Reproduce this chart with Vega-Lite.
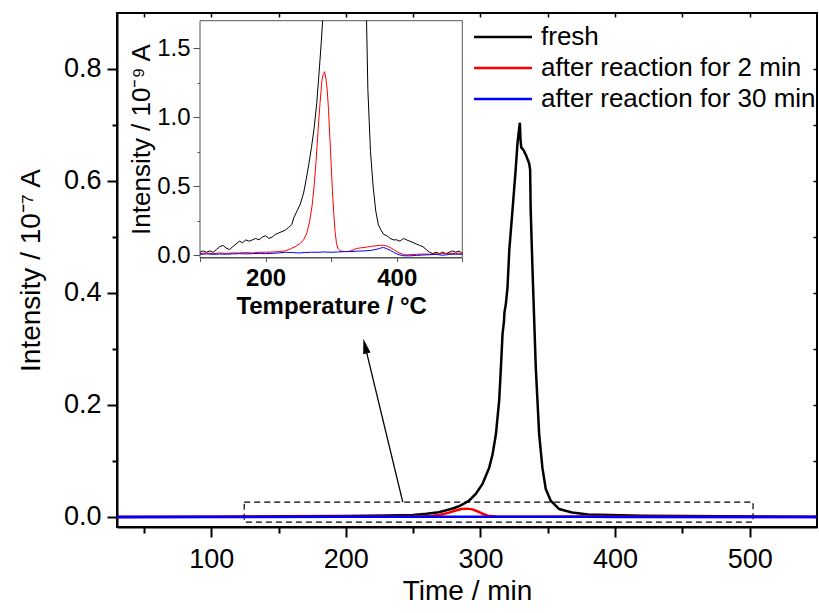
{
  "$schema": "https://vega.github.io/schema/vega-lite/v6.json",
  "width": 700,
  "height": 514,
  "autosize": {"type": "none"},
  "padding": {"left": 117, "top": 13, "right": 2, "bottom": 86},
  "config": {
    "font": "Liberation Sans",
    "view": {"stroke": "black", "strokeWidth": 2},
    "axis": {"grid": false, "labelColor": "black", "titleColor": "black", "titleFontWeight": "normal", "domainColor": "black", "tickColor": "black"}
  },
  "datasets": {
    "main": [
      {"t": 30, "v": 0.0, "s": "fresh"},
      {"t": 100, "v": 0.0005, "s": "fresh"},
      {"t": 150, "v": 0.001, "s": "fresh"},
      {"t": 200, "v": 0.0015, "s": "fresh"},
      {"t": 230, "v": 0.0025, "s": "fresh"},
      {"t": 250, "v": 0.0035, "s": "fresh"},
      {"t": 260, "v": 0.0055, "s": "fresh"},
      {"t": 269, "v": 0.0085, "s": "fresh"},
      {"t": 274, "v": 0.0115, "s": "fresh"},
      {"t": 280, "v": 0.0155, "s": "fresh"},
      {"t": 284, "v": 0.019, "s": "fresh"},
      {"t": 288, "v": 0.024, "s": "fresh"},
      {"t": 291.5, "v": 0.029, "s": "fresh"},
      {"t": 296.5, "v": 0.041, "s": "fresh"},
      {"t": 301.5, "v": 0.059, "s": "fresh"},
      {"t": 306.5, "v": 0.088, "s": "fresh"},
      {"t": 309, "v": 0.112, "s": "fresh"},
      {"t": 311.5, "v": 0.148, "s": "fresh"},
      {"t": 313.9, "v": 0.208, "s": "fresh"},
      {"t": 315.2, "v": 0.267, "s": "fresh"},
      {"t": 316.4, "v": 0.327, "s": "fresh"},
      {"t": 317.5, "v": 0.35, "s": "fresh"},
      {"t": 317.8, "v": 0.365, "s": "fresh"},
      {"t": 318.9, "v": 0.381, "s": "fresh"},
      {"t": 320.1, "v": 0.41, "s": "fresh"},
      {"t": 321.4, "v": 0.476, "s": "fresh"},
      {"t": 323.8, "v": 0.548, "s": "fresh"},
      {"t": 326.3, "v": 0.625, "s": "fresh"},
      {"t": 327.5, "v": 0.667, "s": "fresh"},
      {"t": 328.3, "v": 0.685, "s": "fresh"},
      {"t": 329.3, "v": 0.704, "s": "fresh"},
      {"t": 329.7, "v": 0.675, "s": "fresh"},
      {"t": 330.3, "v": 0.66, "s": "fresh"},
      {"t": 332, "v": 0.655, "s": "fresh"},
      {"t": 334, "v": 0.645, "s": "fresh"},
      {"t": 336.2, "v": 0.631, "s": "fresh"},
      {"t": 336.9, "v": 0.62, "s": "fresh"},
      {"t": 337.3, "v": 0.55, "s": "fresh"},
      {"t": 338.6, "v": 0.446, "s": "fresh"},
      {"t": 341.1, "v": 0.267, "s": "fresh"},
      {"t": 343.6, "v": 0.148, "s": "fresh"},
      {"t": 346, "v": 0.088, "s": "fresh"},
      {"t": 348.5, "v": 0.05, "s": "fresh"},
      {"t": 352.2, "v": 0.029, "s": "fresh"},
      {"t": 358.5, "v": 0.014, "s": "fresh"},
      {"t": 368, "v": 0.008, "s": "fresh"},
      {"t": 380, "v": 0.0045, "s": "fresh"},
      {"t": 420, "v": 0.002, "s": "fresh"},
      {"t": 550, "v": 0.0005, "s": "fresh"},
      {"t": 30, "v": 0.0, "s": "after reaction for 2 min"},
      {"t": 200, "v": 0.0002, "s": "after reaction for 2 min"},
      {"t": 250, "v": 0.0009, "s": "after reaction for 2 min"},
      {"t": 263, "v": 0.0018, "s": "after reaction for 2 min"},
      {"t": 270, "v": 0.004, "s": "after reaction for 2 min"},
      {"t": 276, "v": 0.0072, "s": "after reaction for 2 min"},
      {"t": 281, "v": 0.011, "s": "after reaction for 2 min"},
      {"t": 286, "v": 0.014, "s": "after reaction for 2 min"},
      {"t": 289.8, "v": 0.0148, "s": "after reaction for 2 min"},
      {"t": 294, "v": 0.0135, "s": "after reaction for 2 min"},
      {"t": 298, "v": 0.0097, "s": "after reaction for 2 min"},
      {"t": 301.5, "v": 0.0057, "s": "after reaction for 2 min"},
      {"t": 305.5, "v": 0.0022, "s": "after reaction for 2 min"},
      {"t": 311.6, "v": 0.0006, "s": "after reaction for 2 min"},
      {"t": 324, "v": 0.0003, "s": "after reaction for 2 min"},
      {"t": 340, "v": 0.0005, "s": "after reaction for 2 min"},
      {"t": 380, "v": 0.0007, "s": "after reaction for 2 min"},
      {"t": 400, "v": 0.0002, "s": "after reaction for 2 min"},
      {"t": 550, "v": 0.0, "s": "after reaction for 2 min"},
      {"t": 30, "v": 0.0, "s": "after reaction for 30 min"},
      {"t": 200, "v": 0.0001, "s": "after reaction for 30 min"},
      {"t": 300, "v": 0.0002, "s": "after reaction for 30 min"},
      {"t": 380, "v": 0.0005, "s": "after reaction for 30 min"},
      {"t": 400, "v": 0.0, "s": "after reaction for 30 min"},
      {"t": 550, "v": 0.0, "s": "after reaction for 30 min"}
    ],
    "box": [{"t": 124.5, "t2": 502.5, "v": -0.0093, "v2": 0.0264}],
    "arrow": [{"t": 242.3, "v": 0.0264, "t2": 214.3, "v2": 0.305}],
    "frame": [{"T": 100, "T2": 500, "I": -0.018, "I2": 1.7}],
    "inset": [
      {"T": 100, "I": 0.02, "s": "fresh", "seg": "a"},
      {"T": 105, "I": 0.03, "s": "fresh", "seg": "a"},
      {"T": 110, "I": 0.02, "s": "fresh", "seg": "a"},
      {"T": 115, "I": 0.03, "s": "fresh", "seg": "a"},
      {"T": 120, "I": 0.02, "s": "fresh", "seg": "a"},
      {"T": 125, "I": 0.04, "s": "fresh", "seg": "a"},
      {"T": 130, "I": 0.06, "s": "fresh", "seg": "a"},
      {"T": 135, "I": 0.07, "s": "fresh", "seg": "a"},
      {"T": 140, "I": 0.05, "s": "fresh", "seg": "a"},
      {"T": 145, "I": 0.04, "s": "fresh", "seg": "a"},
      {"T": 150, "I": 0.06, "s": "fresh", "seg": "a"},
      {"T": 155, "I": 0.08, "s": "fresh", "seg": "a"},
      {"T": 160, "I": 0.1, "s": "fresh", "seg": "a"},
      {"T": 165, "I": 0.09, "s": "fresh", "seg": "a"},
      {"T": 170, "I": 0.11, "s": "fresh", "seg": "a"},
      {"T": 175, "I": 0.1, "s": "fresh", "seg": "a"},
      {"T": 180, "I": 0.11, "s": "fresh", "seg": "a"},
      {"T": 185, "I": 0.12, "s": "fresh", "seg": "a"},
      {"T": 190, "I": 0.11, "s": "fresh", "seg": "a"},
      {"T": 195, "I": 0.13, "s": "fresh", "seg": "a"},
      {"T": 200, "I": 0.14, "s": "fresh", "seg": "a"},
      {"T": 205, "I": 0.12, "s": "fresh", "seg": "a"},
      {"T": 210, "I": 0.13, "s": "fresh", "seg": "a"},
      {"T": 215, "I": 0.15, "s": "fresh", "seg": "a"},
      {"T": 220, "I": 0.16, "s": "fresh", "seg": "a"},
      {"T": 225, "I": 0.17, "s": "fresh", "seg": "a"},
      {"T": 230, "I": 0.18, "s": "fresh", "seg": "a"},
      {"T": 235, "I": 0.2, "s": "fresh", "seg": "a"},
      {"T": 240, "I": 0.22, "s": "fresh", "seg": "a"},
      {"T": 243, "I": 0.27, "s": "fresh", "seg": "a"},
      {"T": 248, "I": 0.32, "s": "fresh", "seg": "a"},
      {"T": 253, "I": 0.37, "s": "fresh", "seg": "a"},
      {"T": 258, "I": 0.45, "s": "fresh", "seg": "a"},
      {"T": 262, "I": 0.55, "s": "fresh", "seg": "a"},
      {"T": 266, "I": 0.66, "s": "fresh", "seg": "a"},
      {"T": 270, "I": 0.78, "s": "fresh", "seg": "a"},
      {"T": 274, "I": 0.92, "s": "fresh", "seg": "a"},
      {"T": 278, "I": 1.1, "s": "fresh", "seg": "a"},
      {"T": 282, "I": 1.35, "s": "fresh", "seg": "a"},
      {"T": 285, "I": 1.55, "s": "fresh", "seg": "a"},
      {"T": 287, "I": 1.7, "s": "fresh", "seg": "a"},
      {"T": 354, "I": 1.7, "s": "fresh", "seg": "b"},
      {"T": 356, "I": 1.2, "s": "fresh", "seg": "b"},
      {"T": 360, "I": 0.75, "s": "fresh", "seg": "b"},
      {"T": 364, "I": 0.5, "s": "fresh", "seg": "b"},
      {"T": 368, "I": 0.32, "s": "fresh", "seg": "b"},
      {"T": 372, "I": 0.22, "s": "fresh", "seg": "b"},
      {"T": 376, "I": 0.18, "s": "fresh", "seg": "b"},
      {"T": 380, "I": 0.15, "s": "fresh", "seg": "b"},
      {"T": 385, "I": 0.14, "s": "fresh", "seg": "b"},
      {"T": 390, "I": 0.12, "s": "fresh", "seg": "b"},
      {"T": 395, "I": 0.11, "s": "fresh", "seg": "b"},
      {"T": 400, "I": 0.11, "s": "fresh", "seg": "b"},
      {"T": 405, "I": 0.1, "s": "fresh", "seg": "b"},
      {"T": 410, "I": 0.12, "s": "fresh", "seg": "b"},
      {"T": 415, "I": 0.11, "s": "fresh", "seg": "b"},
      {"T": 420, "I": 0.1, "s": "fresh", "seg": "b"},
      {"T": 425, "I": 0.09, "s": "fresh", "seg": "b"},
      {"T": 430, "I": 0.08, "s": "fresh", "seg": "b"},
      {"T": 435, "I": 0.07, "s": "fresh", "seg": "b"},
      {"T": 440, "I": 0.06, "s": "fresh", "seg": "b"},
      {"T": 445, "I": 0.04, "s": "fresh", "seg": "b"},
      {"T": 450, "I": 0.02, "s": "fresh", "seg": "b"},
      {"T": 455, "I": 0.01, "s": "fresh", "seg": "b"},
      {"T": 460, "I": 0.02, "s": "fresh", "seg": "b"},
      {"T": 465, "I": 0.01, "s": "fresh", "seg": "b"},
      {"T": 470, "I": 0.02, "s": "fresh", "seg": "b"},
      {"T": 475, "I": 0.01, "s": "fresh", "seg": "b"},
      {"T": 480, "I": 0.02, "s": "fresh", "seg": "b"},
      {"T": 485, "I": 0.03, "s": "fresh", "seg": "b"},
      {"T": 490, "I": 0.02, "s": "fresh", "seg": "b"},
      {"T": 495, "I": 0.03, "s": "fresh", "seg": "b"},
      {"T": 500, "I": 0.01, "s": "fresh", "seg": "b"},
      {"T": 100, "I": 0.01, "s": "after reaction for 2 min", "seg": "a"},
      {"T": 110, "I": 0.015, "s": "after reaction for 2 min", "seg": "a"},
      {"T": 120, "I": 0.01, "s": "after reaction for 2 min", "seg": "a"},
      {"T": 130, "I": 0.015, "s": "after reaction for 2 min", "seg": "a"},
      {"T": 140, "I": 0.012, "s": "after reaction for 2 min", "seg": "a"},
      {"T": 150, "I": 0.015, "s": "after reaction for 2 min", "seg": "a"},
      {"T": 160, "I": 0.015, "s": "after reaction for 2 min", "seg": "a"},
      {"T": 170, "I": 0.018, "s": "after reaction for 2 min", "seg": "a"},
      {"T": 180, "I": 0.015, "s": "after reaction for 2 min", "seg": "a"},
      {"T": 190, "I": 0.02, "s": "after reaction for 2 min", "seg": "a"},
      {"T": 200, "I": 0.02, "s": "after reaction for 2 min", "seg": "a"},
      {"T": 210, "I": 0.022, "s": "after reaction for 2 min", "seg": "a"},
      {"T": 220, "I": 0.025, "s": "after reaction for 2 min", "seg": "a"},
      {"T": 230, "I": 0.03, "s": "after reaction for 2 min", "seg": "a"},
      {"T": 238, "I": 0.045, "s": "after reaction for 2 min", "seg": "a"},
      {"T": 245, "I": 0.06, "s": "after reaction for 2 min", "seg": "a"},
      {"T": 253, "I": 0.085, "s": "after reaction for 2 min", "seg": "a"},
      {"T": 258, "I": 0.11, "s": "after reaction for 2 min", "seg": "a"},
      {"T": 263, "I": 0.16, "s": "after reaction for 2 min", "seg": "a"},
      {"T": 267, "I": 0.24, "s": "after reaction for 2 min", "seg": "a"},
      {"T": 271, "I": 0.36, "s": "after reaction for 2 min", "seg": "a"},
      {"T": 274, "I": 0.5, "s": "after reaction for 2 min", "seg": "a"},
      {"T": 277, "I": 0.68, "s": "after reaction for 2 min", "seg": "a"},
      {"T": 280, "I": 0.9, "s": "after reaction for 2 min", "seg": "a"},
      {"T": 283, "I": 1.1, "s": "after reaction for 2 min", "seg": "a"},
      {"T": 286, "I": 1.27, "s": "after reaction for 2 min", "seg": "a"},
      {"T": 288, "I": 1.31, "s": "after reaction for 2 min", "seg": "a"},
      {"T": 290, "I": 1.33, "s": "after reaction for 2 min", "seg": "a"},
      {"T": 292, "I": 1.28, "s": "after reaction for 2 min", "seg": "a"},
      {"T": 294, "I": 1.2, "s": "after reaction for 2 min", "seg": "a"},
      {"T": 296, "I": 1.05, "s": "after reaction for 2 min", "seg": "a"},
      {"T": 298, "I": 0.86, "s": "after reaction for 2 min", "seg": "a"},
      {"T": 300, "I": 0.66, "s": "after reaction for 2 min", "seg": "a"},
      {"T": 302, "I": 0.46, "s": "after reaction for 2 min", "seg": "a"},
      {"T": 304, "I": 0.3, "s": "after reaction for 2 min", "seg": "a"},
      {"T": 306, "I": 0.17, "s": "after reaction for 2 min", "seg": "a"},
      {"T": 308, "I": 0.09, "s": "after reaction for 2 min", "seg": "a"},
      {"T": 310, "I": 0.05, "s": "after reaction for 2 min", "seg": "a"},
      {"T": 314, "I": 0.03, "s": "after reaction for 2 min", "seg": "a"},
      {"T": 320, "I": 0.025, "s": "after reaction for 2 min", "seg": "a"},
      {"T": 325, "I": 0.025, "s": "after reaction for 2 min", "seg": "a"},
      {"T": 330, "I": 0.03, "s": "after reaction for 2 min", "seg": "a"},
      {"T": 335, "I": 0.04, "s": "after reaction for 2 min", "seg": "a"},
      {"T": 340, "I": 0.048, "s": "after reaction for 2 min", "seg": "a"},
      {"T": 345, "I": 0.052, "s": "after reaction for 2 min", "seg": "a"},
      {"T": 350, "I": 0.055, "s": "after reaction for 2 min", "seg": "a"},
      {"T": 355, "I": 0.058, "s": "after reaction for 2 min", "seg": "a"},
      {"T": 360, "I": 0.062, "s": "after reaction for 2 min", "seg": "a"},
      {"T": 365, "I": 0.065, "s": "after reaction for 2 min", "seg": "a"},
      {"T": 370, "I": 0.068, "s": "after reaction for 2 min", "seg": "a"},
      {"T": 375, "I": 0.07, "s": "after reaction for 2 min", "seg": "a"},
      {"T": 380, "I": 0.07, "s": "after reaction for 2 min", "seg": "a"},
      {"T": 385, "I": 0.065, "s": "after reaction for 2 min", "seg": "a"},
      {"T": 390, "I": 0.055, "s": "after reaction for 2 min", "seg": "a"},
      {"T": 395, "I": 0.04, "s": "after reaction for 2 min", "seg": "a"},
      {"T": 400, "I": 0.025, "s": "after reaction for 2 min", "seg": "a"},
      {"T": 405, "I": 0.012, "s": "after reaction for 2 min", "seg": "a"},
      {"T": 410, "I": 0.005, "s": "after reaction for 2 min", "seg": "a"},
      {"T": 415, "I": 0.0, "s": "after reaction for 2 min", "seg": "a"},
      {"T": 420, "I": 0.003, "s": "after reaction for 2 min", "seg": "a"},
      {"T": 430, "I": 0.005, "s": "after reaction for 2 min", "seg": "a"},
      {"T": 440, "I": 0.007, "s": "after reaction for 2 min", "seg": "a"},
      {"T": 450, "I": 0.006, "s": "after reaction for 2 min", "seg": "a"},
      {"T": 460, "I": 0.008, "s": "after reaction for 2 min", "seg": "a"},
      {"T": 470, "I": 0.01, "s": "after reaction for 2 min", "seg": "a"},
      {"T": 480, "I": 0.012, "s": "after reaction for 2 min", "seg": "a"},
      {"T": 490, "I": 0.012, "s": "after reaction for 2 min", "seg": "a"},
      {"T": 500, "I": 0.015, "s": "after reaction for 2 min", "seg": "a"},
      {"T": 100, "I": 0.005, "s": "after reaction for 30 min", "seg": "a"},
      {"T": 110, "I": 0.008, "s": "after reaction for 30 min", "seg": "a"},
      {"T": 120, "I": 0.005, "s": "after reaction for 30 min", "seg": "a"},
      {"T": 130, "I": 0.007, "s": "after reaction for 30 min", "seg": "a"},
      {"T": 140, "I": 0.006, "s": "after reaction for 30 min", "seg": "a"},
      {"T": 150, "I": 0.008, "s": "after reaction for 30 min", "seg": "a"},
      {"T": 160, "I": 0.01, "s": "after reaction for 30 min", "seg": "a"},
      {"T": 170, "I": 0.008, "s": "after reaction for 30 min", "seg": "a"},
      {"T": 180, "I": 0.01, "s": "after reaction for 30 min", "seg": "a"},
      {"T": 190, "I": 0.012, "s": "after reaction for 30 min", "seg": "a"},
      {"T": 200, "I": 0.01, "s": "after reaction for 30 min", "seg": "a"},
      {"T": 210, "I": 0.012, "s": "after reaction for 30 min", "seg": "a"},
      {"T": 220, "I": 0.015, "s": "after reaction for 30 min", "seg": "a"},
      {"T": 230, "I": 0.02, "s": "after reaction for 30 min", "seg": "a"},
      {"T": 240, "I": 0.018, "s": "after reaction for 30 min", "seg": "a"},
      {"T": 250, "I": 0.015, "s": "after reaction for 30 min", "seg": "a"},
      {"T": 260, "I": 0.018, "s": "after reaction for 30 min", "seg": "a"},
      {"T": 270, "I": 0.02, "s": "after reaction for 30 min", "seg": "a"},
      {"T": 280, "I": 0.02, "s": "after reaction for 30 min", "seg": "a"},
      {"T": 290, "I": 0.022, "s": "after reaction for 30 min", "seg": "a"},
      {"T": 300, "I": 0.02, "s": "after reaction for 30 min", "seg": "a"},
      {"T": 310, "I": 0.022, "s": "after reaction for 30 min", "seg": "a"},
      {"T": 320, "I": 0.025, "s": "after reaction for 30 min", "seg": "a"},
      {"T": 330, "I": 0.025, "s": "after reaction for 30 min", "seg": "a"},
      {"T": 340, "I": 0.028, "s": "after reaction for 30 min", "seg": "a"},
      {"T": 350, "I": 0.03, "s": "after reaction for 30 min", "seg": "a"},
      {"T": 360, "I": 0.033, "s": "after reaction for 30 min", "seg": "a"},
      {"T": 365, "I": 0.038, "s": "after reaction for 30 min", "seg": "a"},
      {"T": 370, "I": 0.042, "s": "after reaction for 30 min", "seg": "a"},
      {"T": 375, "I": 0.05, "s": "after reaction for 30 min", "seg": "a"},
      {"T": 380, "I": 0.055, "s": "after reaction for 30 min", "seg": "a"},
      {"T": 385, "I": 0.045, "s": "after reaction for 30 min", "seg": "a"},
      {"T": 390, "I": 0.035, "s": "after reaction for 30 min", "seg": "a"},
      {"T": 395, "I": 0.02, "s": "after reaction for 30 min", "seg": "a"},
      {"T": 400, "I": 0.008, "s": "after reaction for 30 min", "seg": "a"},
      {"T": 405, "I": 0.0, "s": "after reaction for 30 min", "seg": "a"},
      {"T": 410, "I": -0.005, "s": "after reaction for 30 min", "seg": "a"},
      {"T": 420, "I": -0.006, "s": "after reaction for 30 min", "seg": "a"},
      {"T": 430, "I": -0.003, "s": "after reaction for 30 min", "seg": "a"},
      {"T": 440, "I": 0.0, "s": "after reaction for 30 min", "seg": "a"},
      {"T": 450, "I": 0.002, "s": "after reaction for 30 min", "seg": "a"},
      {"T": 460, "I": 0.005, "s": "after reaction for 30 min", "seg": "a"},
      {"T": 470, "I": -0.002, "s": "after reaction for 30 min", "seg": "a"},
      {"T": 480, "I": 0.004, "s": "after reaction for 30 min", "seg": "a"},
      {"T": 490, "I": 0.006, "s": "after reaction for 30 min", "seg": "a"},
      {"T": 500, "I": 0.005, "s": "after reaction for 30 min", "seg": "a"}
    ]
  },
  "layer": [
    {
      "data": {"name": "box"},
      "mark": {"type": "rect", "fillOpacity": 0, "stroke": "black", "strokeWidth": 1.2, "strokeDash": [6, 4]},
      "encoding": {
        "x": {"field": "t", "type": "quantitative", "scale": {"domain": [30, 550], "nice": false, "zero": false},
          "axis": {"orient": "top", "values": [50, 100, 150, 200, 250, 300, 350, 400, 450, 500], "labels": false, "domain": false, "title": null, "tickSize": -4, "tickWidth": 1.5}},
        "x2": {"field": "t2"},
        "y": {"field": "v", "type": "quantitative", "scale": {"domain": [-0.018, 0.9], "nice": false, "zero": false},
          "axis": {"orient": "right", "values": [0, 0.1, 0.2, 0.3, 0.4, 0.5, 0.6, 0.7, 0.8], "labels": false, "domain": false, "title": null, "tickSize": -4, "tickWidth": 1.5}},
        "y2": {"field": "v2"}
      }
    },
    {
      "data": {"name": "main"},
      "mark": {"type": "line", "strokeWidth": 2.5, "clip": true},
      "encoding": {
        "x": {"field": "t", "type": "quantitative", "scale": {"domain": [30, 550], "nice": false, "zero": false},
          "axis": {"orient": "bottom", "title": "Time / min", "values": [50, 100, 150, 200, 250, 300, 350, 400, 450, 500],
            "labelExpr": "datum.value % 100 === 0 ? datum.label : ''",
            "tickSize": {"condition": {"test": "datum.value % 100 === 0", "value": 10}, "value": 6},
            "labelFontSize": 27, "titleFontSize": 28, "labelPadding": 9, "titlePadding": 5,
            "domainWidth": 2, "tickWidth": 2, "labelFlush": false, "labelOverlap": false}},
        "y": {"field": "v", "type": "quantitative", "scale": {"domain": [-0.018, 0.9], "nice": false, "zero": false},
          "axis": {"orient": "left", "title": "Intensity / 10⁻⁷ A", "values": [0, 0.1, 0.2, 0.3, 0.4, 0.5, 0.6, 0.7, 0.8], "format": ".1f",
            "labelExpr": "round(datum.value*10) % 2 === 0 ? datum.label : ''",
            "tickSize": {"condition": {"test": "round(datum.value*10) % 2 === 0", "value": 10}, "value": 5},
            "labelFontSize": 27, "titleFontSize": 28, "labelPadding": 6, "titlePadding": 18,
            "domainWidth": 2, "tickWidth": 2, "labelFlush": false, "labelOverlap": false}},
        "color": {"field": "s", "type": "nominal",
          "scale": {"domain": ["fresh", "after reaction for 2 min", "after reaction for 30 min"], "range": ["#000000", "#ff0000", "#0000ff"]},
          "legend": {"title": null, "orient": "none", "legendX": 370, "legendY": 8, "symbolType": "M-2,0L2,0", "symbolSize": 841,
            "symbolStrokeWidth": 2.5, "symbolFillColor": "transparent", "labelFontSize": 26, "labelColor": "black", "labelLimit": 500, "rowPadding": 2, "labelOffset": 22}},
        "order": {"field": "t", "type": "quantitative"}
      }
    },
    {
      "data": {"name": "arrow"},
      "mark": {"type": "rule", "color": "black", "strokeWidth": 1.3},
      "encoding": {
        "x": {"field": "t", "type": "quantitative", "scale": {"domain": [30, 550], "nice": false, "zero": false}, "axis": null},
        "x2": {"field": "t2"},
        "y": {"field": "v", "type": "quantitative", "scale": {"domain": [-0.018, 0.9], "nice": false, "zero": false}, "axis": null},
        "y2": {"field": "v2"}
      }
    },
    {
      "data": {"name": "arrow"},
      "mark": {"type": "point", "shape": "M0,-1L0.5,1L-0.5,1Z", "filled": true, "color": "black", "opacity": 1, "size": 225, "angle": 346.4},
      "encoding": {
        "x": {"field": "t2", "type": "quantitative", "scale": {"domain": [30, 550], "nice": false, "zero": false}, "axis": null},
        "y": {"field": "v2", "type": "quantitative", "scale": {"domain": [-0.018, 0.9], "nice": false, "zero": false}, "axis": null}
      }
    },
    {
      "data": {"name": "frame"},
      "mark": {"type": "rect", "fill": "white", "stroke": "#555555", "strokeWidth": 1},
      "encoding": {
        "x": {"field": "T", "type": "quantitative", "scale": {"domain": [100, 500], "range": [83, 345.3], "nice": false, "zero": false}, "axis": null},
        "x2": {"field": "T2"},
        "y": {"field": "I", "type": "quantitative", "scale": {"domain": [-0.018, 1.7], "range": [244.5, 7.7], "nice": false, "zero": false}, "axis": null},
        "y2": {"field": "I2"}
      }
    },
    {
      "data": {"name": "inset"},
      "mark": {"type": "line", "strokeWidth": 1},
      "encoding": {
        "x": {"field": "T", "type": "quantitative", "scale": {"domain": [100, 500], "range": [83, 345.3], "nice": false, "zero": false},
          "axis": {"orient": "bottom", "offset": -269.5, "title": "Temperature / °C", "values": [100, 200, 300, 400, 500],
            "labelExpr": "datum.value === 200 || datum.value === 400 ? datum.label : ''",
            "tickSize": 4, "tickWidth": 1, "domainWidth": 1, "domainColor": "#555555", "tickColor": "#555555",
            "labelFontSize": 24, "labelFontWeight": "bold", "titleFontSize": 24, "titleFontWeight": "bold",
            "labelPadding": 5, "titlePadding": 4, "labelFlush": false, "labelOverlap": false}},
        "y": {"field": "I", "type": "quantitative", "scale": {"domain": [-0.018, 1.7], "range": [244.5, 7.7], "nice": false, "zero": false},
          "axis": {"orient": "left", "offset": -83, "title": "Intensity / 10⁻⁹ A", "values": [0, 0.25, 0.5, 0.75, 1, 1.25, 1.5], "format": ".1f",
            "labelExpr": "datum.value * 2 === round(datum.value * 2) ? datum.label : ''",
            "tickSize": {"condition": {"test": "datum.value * 2 === round(datum.value * 2)", "value": 7}, "value": 3},
            "tickWidth": 1, "domainWidth": 1, "domainColor": "#555555", "tickColor": "#555555",
            "labelFontSize": 24, "titleFontSize": 26, "labelPadding": 3, "titlePadding": 2, "labelFlush": false, "labelOverlap": false}},
        "color": {"field": "s", "type": "nominal", "legend": null},
        "detail": {"field": "seg", "type": "nominal"},
        "order": {"field": "T", "type": "quantitative"}
      }
    }
  ],
  "resolve": {"scale": {"x": "independent", "y": "independent"}}
}
